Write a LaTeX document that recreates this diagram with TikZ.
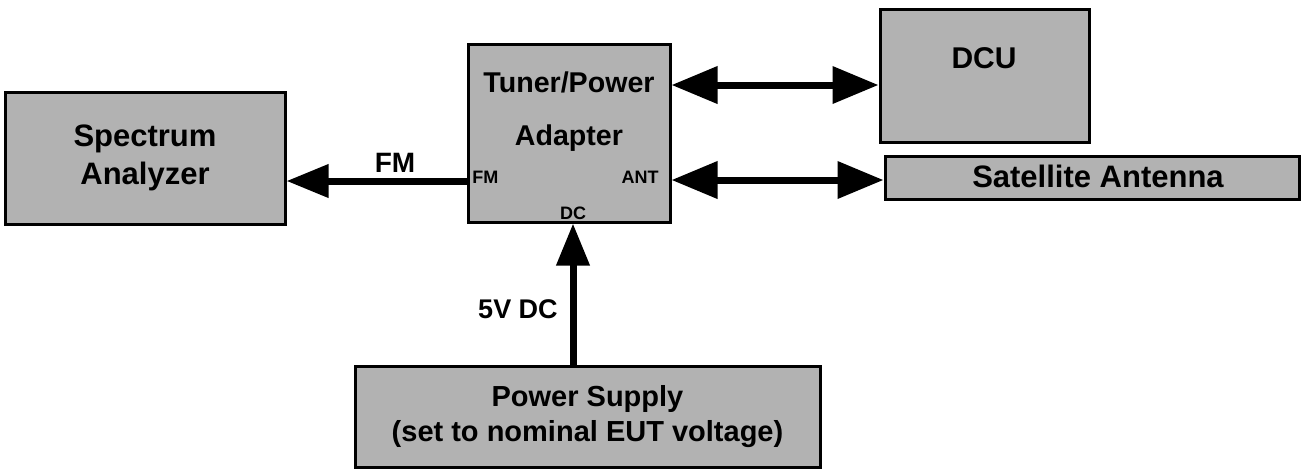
\documentclass[tikz,border=0pt]{standalone}
\usepackage{fontspec}
\setmainfont{Liberation Sans}
\usetikzlibrary{arrows.meta, positioning}

\tikzset{
	block/.style={draw=black, line width=1.5pt, fill=black!30, inner sep=0pt, align=center, font=\bfseries},
	port/.style={inner sep=0pt, font=\bfseries\fontsize{9}{10}\selectfont},
	wire/.style={line width=3.5pt, -{Triangle[length=21pt,width=16pt]}},
	bus/.style={line width=3.5pt, {Triangle[length=23pt,width=18pt]}-{Triangle[length=23pt,width=18pt]}}
}

\begin{document}
\begin{tikzpicture}[x=0.5pt, y=-0.5pt]
		\useasboundingbox (0,0) rectangle (1302,468);
		% Blocks
		\node[block, minimum width=140pt, minimum height=66pt, font=\bfseries\fontsize{15.5}{19}\selectfont] (analyzer) at (145,158) {Spectrum\\Analyzer};
		\node[block, minimum width=101pt, minimum height=89pt] (tuner) at (569,133) {};
		\node[block, minimum width=104.5pt, minimum height=66.5pt] (dcu) at (984.5,75.5) {};
		\node[block, minimum width=207pt, minimum height=21.5pt] (antenna) at (1092,178) {};
		\node[block, minimum width=232.5pt, minimum height=50.5pt, font=\bfseries\fontsize{14.5}{17.5}\selectfont] (supply) at (587.5,416.5) {Power Supply\\(set to nominal EUT voltage)};
		% Block texts
		\node[align=center, font=\bfseries\fontsize{14.3}{26.5}\selectfont] (tunertext) at (569,112) {Tuner/Power\\Adapter};
		\node[font=\bfseries\fontsize{15}{18}\selectfont] (dcutext) at (984,58) {DCU};
		\node[font=\bfseries\fontsize{15.5}{18}\selectfont] (antennatext) at (1098,176) {Satellite Antenna};
		% Ports of the adapter
		\node[port, anchor=west] (fmport) at (472,177) {FM};
		\node[port, anchor=east] (antport) at (659,177) {ANT};
		\node[port] (dcport) at (573,213) {DC};
		% Connections
		\draw[wire] (tuner.west |- 0,181) -- (analyzer.east |- 0,181);
		\draw[wire] (supply.north -| dcport) -- (tuner.south -| dcport);
		\draw[bus] (tuner.east |- 0,85) -- (dcu.west |- 0,85);
		\draw[bus] (tuner.east |- 0,180) -- (antenna.west |- 0,180);
		% Signal labels
		\node[font=\bfseries\fontsize{14}{16}\selectfont] (fmlabel) at (395,163) {FM};
		\node[font=\bfseries\fontsize{13.5}{16}\selectfont] (dclabel) at (518,309) {5V DC};
	\end{tikzpicture}
\end{document}
